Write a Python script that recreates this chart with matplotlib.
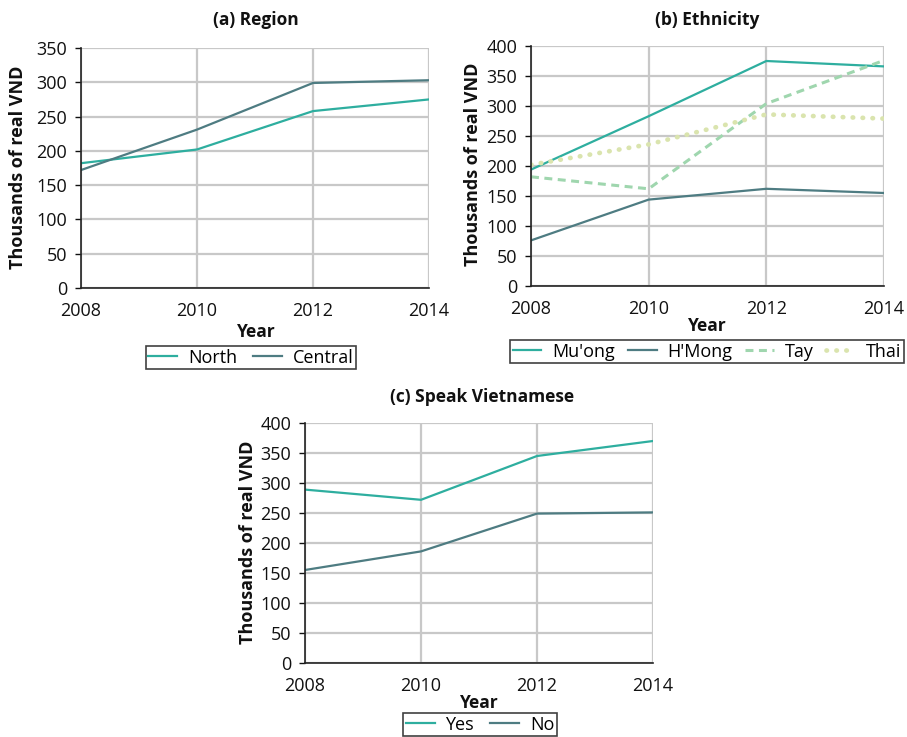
import matplotlib
matplotlib.use("Agg")
import matplotlib.pyplot as plt

plt.rcParams['font.family'] = ['Open Sans', 'DejaVu Sans']

years = [2008, 2010, 2012, 2014]

# (a) Region
north = [182, 202, 258, 275]
central = [172, 231, 299, 303]

# (b) Ethnicity
muong = [194, 283, 375, 366]
hmong = [76, 144, 162, 155]
tay = [182, 162, 304, 376]
thai = [202, 236, 286, 279]

# (c) Speak Vietnamese
yes = [289, 272, 345, 370]
no = [155, 186, 249, 251]

TEAL = '#2EAE9F'
SLATE = '#4E7C82'
TAY_C = '#9FD6AE'
THAI_C = '#DAE4AE'
GRID = '#C8C8C8'

W, H = 907, 737
fig = plt.figure(figsize=(W / 100, H / 100), dpi=100)

FS = 13


def px_axes(left, top, right, bottom):
    return fig.add_axes([left / W, 1 - bottom / H, (right - left) / W, (bottom - top) / H])


def style(ax, ymax, title, tcx, tcy, ylx, yly, xlx, xly):
    ax.set_xlim(2008, 2014)
    ax.set_ylim(0, ymax)
    ax.set_xticks(years)
    ax.set_yticks(range(0, ymax + 1, 50))
    ax.grid(True, color=GRID, linewidth=1.6, zorder=0)
    ax.set_axisbelow(True)
    for s in ['top', 'right']:
        ax.spines[s].set_visible(False)
    for s in ['left', 'bottom']:
        ax.spines[s].set_color('#222222')
        ax.spines[s].set_linewidth(1.2)
    ax.tick_params(axis='y', length=4, width=1.0, pad=6, labelsize=FS, colors='#111111')
    ax.tick_params(axis='x', length=0, pad=10, labelsize=FS, colors='#111111')
    ax.set_xticks([2008, 2014], minor=True)
    ax.tick_params(axis='x', which='minor', length=4, width=1.0)
    fig.text(tcx / W, 1 - tcy / H, title, ha='center', va='center',
             fontsize=12.5, fontweight='bold', color='#111111')
    fig.text(ylx / W, 1 - yly / H, 'Thousands of real VND', ha='center', va='center',
             rotation=90, fontsize=13, fontweight='bold', color='#111111')
    fig.text(xlx / W, 1 - xly / H, 'Year', ha='center', va='center',
             fontsize=12.5, fontweight='bold', color='#111111')


def legend(ax, cx, top, colsp=0.9):
    leg = ax.legend(loc='upper center', bbox_to_anchor=(cx / W, 1 - top / H),
                    bbox_transform=fig.transFigure, ncol=4, frameon=True,
                    fancybox=False, edgecolor='#111111', fontsize=FS,
                    handlelength=1.6, handletextpad=0.6, columnspacing=colsp,
                    borderpad=0.15, borderaxespad=0)
    leg.get_frame().set_linewidth(1.2)
    return leg


# Panel (a)
axa = px_axes(81, 48, 429, 288)
axa.plot(years, north, color=TEAL, lw=1.6, label='North')
axa.plot(years, central, color=SLATE, lw=1.6, label='Central')
style(axa, 350, '(a) Region', 256, 20, 18, 167, 256, 332)
legend(axa, 251, 346)

# Panel (b)
axb = px_axes(531, 46, 884, 286)
axb.plot(years, muong, color=TEAL, lw=1.6, label="Mu'ong")
axb.plot(years, hmong, color=SLATE, lw=1.6, label="H'Mong")
axb.plot(years, tay, color=TAY_C, lw=2.2, linestyle=(0, (2.6, 1.8)), label='Tay')
axb.plot(years, thai, color=THAI_C, lw=3.4, linestyle=(0, (0.1, 2.0)),
         dash_capstyle='round', label='Thai')
style(axb, 400, '(b) Ethnicity', 707, 20, 473, 164, 707, 326)
legend(axb, 707, 340, colsp=0.7)

# Panel (c)
axc = px_axes(305, 423, 653, 663)
axc.plot(years, yes, color=TEAL, lw=1.6, label='Yes')
axc.plot(years, no, color=SLATE, lw=1.6, label='No')
style(axc, 400, '(c) Speak Vietnamese', 482, 397, 248, 542, 479, 703)
legend(axc, 480, 713)

fig.savefig('out.png', dpi=100)
